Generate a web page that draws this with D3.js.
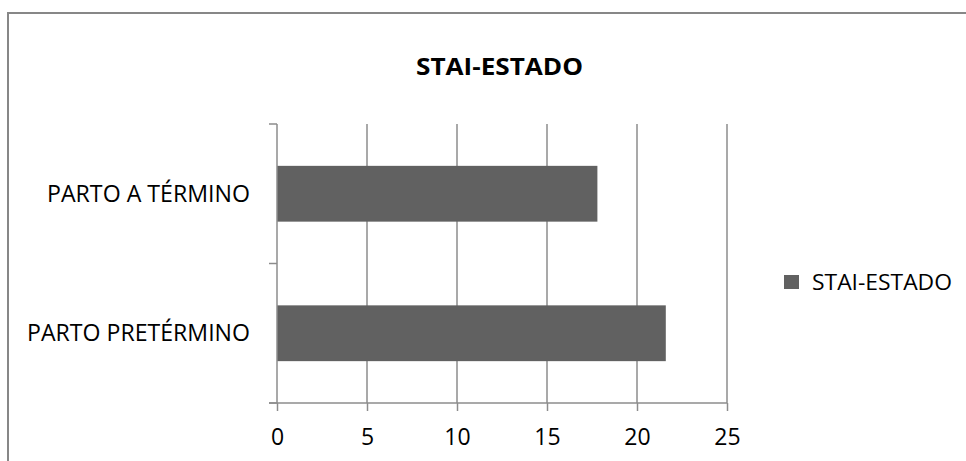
<!DOCTYPE html>
<html>
<head>
<meta charset="utf-8">
<script src="https://cdn.jsdelivr.net/npm/d3@7"></script>
<style>
  html, body { margin: 0; padding: 0; background: #fff; }
  svg { display: block; font-family: "Open Sans", "Noto Sans", sans-serif; }
</style>
</head>
<body>
<svg id="chart" width="966" height="461"></svg>
<script>
// STAI-ESTADO scores by type of delivery
const categories = ["PARTO PRETÉRMINO", "PARTO A TÉRMINO"];
const values = [21.6, 17.8];
const seriesName = "STAI-ESTADO";
const xTicks = [0, 5, 10, 15, 20, 25];

const svg = d3.select("#chart");
const W = 966, H = 461;

const plotL = 277, plotR = 727, plotT = 124, plotB = 403;
const gridColor = "#8c8c8c";
const barColor = "#616161";

// set a text node to a given length
function fitWidth(sel, w) {
  sel.attr("textLength", w).attr("lengthAdjust", "spacingAndGlyphs");
}

// outer frame
svg.append("rect")
  .attr("x", 8).attr("y", 13)
  .attr("width", W).attr("height", H)
  .attr("fill", "none").attr("stroke", "#878787").attr("stroke-width", 2);

const x = d3.scaleLinear().domain([0, 25]).range([plotL, plotR]);
// first category at the bottom, as in a horizontal bar chart
const y = d3.scaleBand().domain(categories.slice().reverse()).range([plotT, plotB])
  .paddingInner(0.6).paddingOuter(0.3);
const band = (plotB - plotT) / categories.length;

// vertical gridlines
svg.append("g").selectAll("line").data(xTicks.slice(1)).join("line")
  .attr("x1", d => x(d)).attr("x2", d => x(d))
  .attr("y1", plotT).attr("y2", plotB)
  .attr("stroke", gridColor).attr("stroke-width", 1.5);

// bars
svg.append("g").selectAll("rect").data(categories).join("rect")
  .attr("x", x(0))
  .attr("y", d => y(d))
  .attr("width", (d, i) => x(values[i]) - x(0))
  .attr("height", y.bandwidth())
  .attr("fill", barColor);

// x axis
const xAxis = svg.append("g").attr("transform", `translate(0,${plotB})`)
  .call(d3.axisBottom(x).tickValues(xTicks).tickSize(8).tickPadding(0).tickSizeOuter(0));
xAxis.select(".domain").remove();
xAxis.append("line").attr("x1", plotL - 8).attr("x2", plotR).attr("y1", 0).attr("y2", 0)
  .attr("stroke", gridColor).attr("stroke-width", 1.5);
xAxis.selectAll(".tick line").attr("stroke", gridColor).attr("stroke-width", 1.5);
xAxis.selectAll(".tick text").attr("fill", "#000").attr("font-size", 23)
  .attr("font-family", "'Open Sans', sans-serif")
  .attr("y", 42).attr("dy", null);

// y axis line and category boundary ticks
const yAxis = svg.append("g");
yAxis.append("line").attr("x1", plotL).attr("x2", plotL).attr("y1", plotT).attr("y2", plotB)
  .attr("stroke", gridColor).attr("stroke-width", 1.5);
yAxis.selectAll("line.tk").data(d3.range(categories.length + 1)).join("line")
  .attr("class", "tk")
  .attr("x1", plotL - 8).attr("x2", plotL)
  .attr("y1", i => plotT + i * band).attr("y2", i => plotT + i * band)
  .attr("stroke", gridColor).attr("stroke-width", 1.5);
const labelWidths = { "PARTO PRETÉRMINO": 223, "PARTO A TÉRMINO": 203 };
yAxis.selectAll("text").data(categories).join("text")
  .attr("x", 250)
  .attr("y", d => y(d) + y.bandwidth() / 2 + 8)
  .attr("text-anchor", "end")
  .attr("font-size", 23)
  .attr("fill", "#000")
  .text(d => d)
  .each(function (d) { fitWidth(d3.select(this), labelWidths[d]); });

// title
svg.append("text").attr("x", 499.5).attr("y", 75)
  .attr("text-anchor", "middle").attr("font-size", 23).attr("font-weight", "bold")
  .attr("fill", "#000").text(seriesName)
  .call(fitWidth, 167);

// legend
const lg = svg.append("g").attr("transform", "translate(784,275)");
lg.append("rect").attr("width", 15).attr("height", 14).attr("fill", barColor);
lg.append("text").attr("x", 28).attr("y", 15).attr("font-size", 22).attr("fill", "#000")
  .text(seriesName).call(fitWidth, 140);
</script>
</body>
</html>
